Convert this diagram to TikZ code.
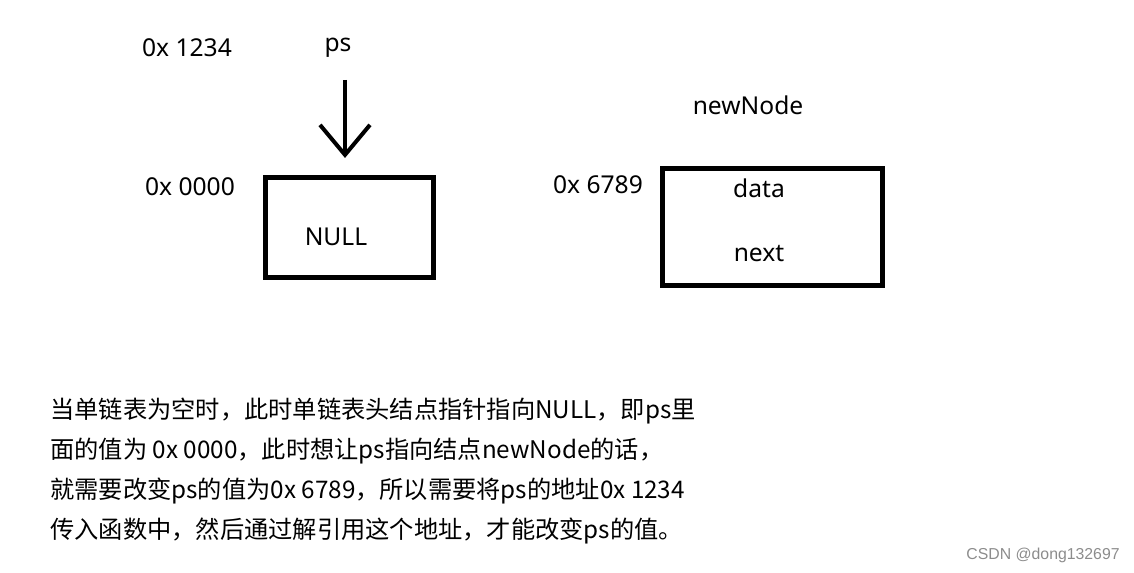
\documentclass[tikz,border=0pt]{standalone}
\usepackage{fontspec}
\setmainfont{Noto Sans}
\newfontfamily\cjkfont{Noto Sans CJK SC}
\newfontfamily\markfont{Liberation Sans}
\usetikzlibrary{arrows.meta}
\usetikzlibrary{positioning}

\tikzset{
	lbl/.style={font=\fontsize{14pt}{17pt}\selectfont, inner sep=0pt},
	para/.style={font=\cjkfont\fontsize{13.8pt}{17pt}\selectfont, inner sep=0pt, anchor=base west},
	memcell/.style={draw, rectangle, line width=0.1cm, inner sep=0pt},
	ptr/.style={line width=0.08cm, -{Straight Barb[length=0.6cm, width=1cm]}},
}

\begin{document}
\begin{tikzpicture}[x=0.02cm, y=-0.02cm]

	\useasboundingbox (0,0) rectangle (1134,573);

	% pointer ps
	% ----------
	\node[lbl, anchor=base] (psaddr) at (187,57) {0x 1234};
	\node[lbl, anchor=base] (pslbl) at (338,52) {ps};
	\coordinate (arrtop) at (345,80);
	\coordinate (arrtip) at (345,158);
	\draw[ptr] (arrtop) -- (arrtip);

	% NULL cell
	% ---------
	\node[memcell, minimum width=3.36cm, minimum height=2cm] (nullbox) at (349.5,227.5) {};
	\node[lbl, anchor=base] (nulltxt) at (336,246) {NULL};
	\node[lbl, anchor=base] (nulladdr) at (190,196) {0x 0000};

	% newNode cell
	% ------------
	\node[lbl, anchor=base] (newlbl) at (748,115) {newNode};
	\node[memcell, minimum width=4.4cm, minimum height=2.34cm] (newbox) at (772.5,227) {};
	\node[lbl, anchor=base] (newaddr) at (598,194) {0x 6789};
	\node[lbl, anchor=base] (datatxt) at (759,198) {data};
	\node[lbl, anchor=base] (nexttxt) at (759,262) {next};

	% explanation
	\foreach \txt [count=\i] in {
		{当单链表为空时，此时单链表头结点指针指向NULL，即ps里},
		{面的值为 0x 0000，此时想让ps指向结点newNode的话，},
		{就需要改变ps的值为0x 6789，所以需要将ps的地址0x 1234},
		{传入函数中，然后通过解引用这个地址，才能改变ps的值。}}
		\node[para] (line\i) at (50,379+40*\i) {\txt};

	\node[font=\markfont\fontsize{9pt}{11pt}\selectfont, text=black!45, anchor=base east, inner sep=0pt] (mark) at (1120,560) {CSDN @dong132697};

\end{tikzpicture}
\end{document}
